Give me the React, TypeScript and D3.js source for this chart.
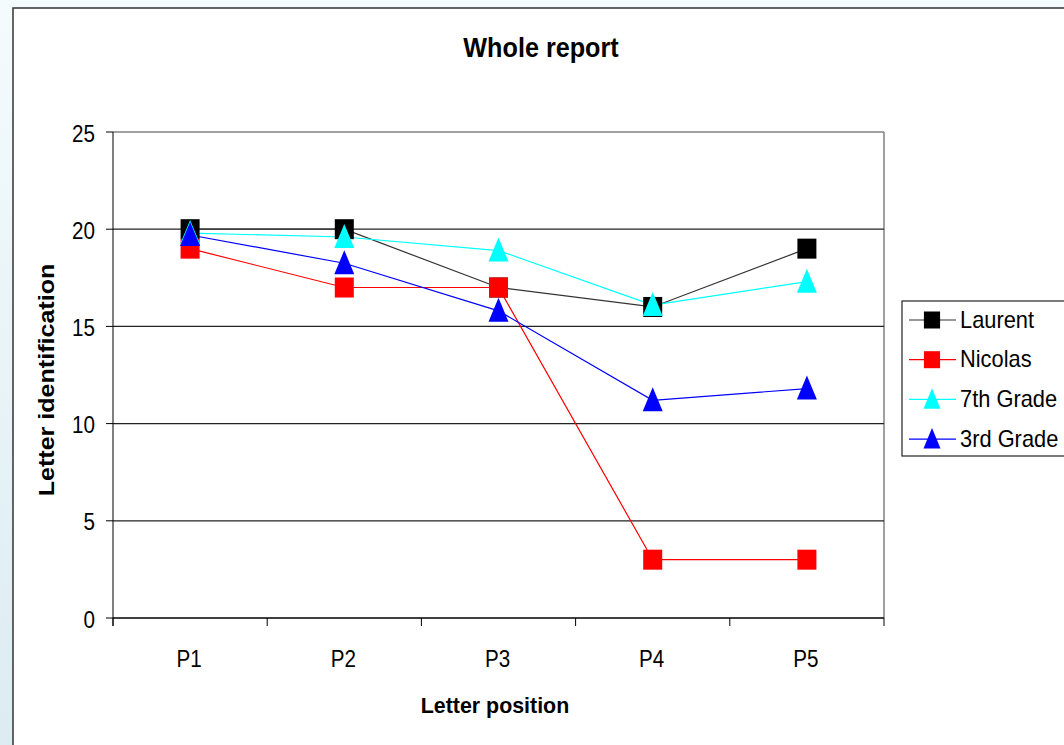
import React from "react";
import * as d3 from "d3";

const categories = ["P1", "P2", "P3", "P4", "P5"];
const laurent = [20, 20, 17, 16, 19];
const nicolas = [19, 17, 17, 3, 3];
const grade7 = [19.8, 19.6, 18.9, 16.1, 17.3];
const grade3 = [19.7, 18.25, 15.8, 11.2, 11.8];
const yTicks = [0, 5, 10, 15, 20, 25];

const seriesList = [
  { name: "Laurent", values: laurent, color: "#000000", line: "#333333", marker: "square" },
  { name: "Nicolas", values: nicolas, color: "#ff0000", line: "#ff0000", marker: "square" },
  { name: "7th Grade", values: grade7, color: "#00ffff", line: "#00ffff", marker: "triangle" },
  { name: "3rd Grade", values: grade3, color: "#0000ff", line: "#0000ff", marker: "triangle" },
];

const W = 1064, H = 745;
const left = 113, right = 884, top = 132, bottom = 618;
const font = "'Liberation Sans', Arial, sans-serif";

function SText(props: {
  x: number; y: number; sx?: number; size: number; bold?: boolean; anchor?: string; rotate?: number; children: any;
}) {
  const { x, y, sx = 0.88, size, bold, anchor = "start", rotate = 0, children } = props;
  return (
    <text
      transform={`translate(${x},${y}) rotate(${rotate}) scale(${sx},1)`}
      textAnchor={anchor}
      fontFamily={font}
      fontWeight={bold ? "bold" : "normal"}
      fontSize={size}
      style={{ whiteSpace: "pre" }}
    >
      {children}
    </text>
  );
}

export default function App() {
  const x = d3.scaleBand().domain(categories).range([left, right]);
  const y = d3.scaleLinear().domain([0, 25]).range([bottom, top]);
  const cx = (c: string) => (x(c) as number) + x.bandwidth() / 2;
  const line = d3.line<number>().x((_, i) => cx(categories[i])).y((v) => y(v));

  const marker = (type: string, px: number, py: number, color: string, key: string, s = 1) => {
    if (type === "square") {
      return <rect key={key} x={px - 9.5 * s} y={py - 10 * s} width={19 * s} height={20 * s} fill={color} />;
    }
    return (
      <path
        key={key}
        d={`M${px},${py - 13 * s}L${px + 10 * s},${py + 11 * s}L${px - 10 * s},${py + 11 * s}Z`}
        fill={color}
      />
    );
  };

  const bounds = categories.map((c) => x(c) as number).concat([right]);

  return (
    <div style={{ position: "absolute", left: 0, top: 0 }}>
      <svg width={W} height={H} style={{ display: "block" }}>
        <defs>
          <linearGradient id="lg" x1="0" y1="0" x2="0" y2="1">
            <stop offset="0" stopColor="#f4fbfd" />
            <stop offset="1" stopColor="#dcecf2" />
          </linearGradient>
        </defs>
        <rect x={0} y={0} width={W} height={H} fill="#f4fbfd" />
        <rect x={0} y={0} width={14} height={H} fill="url(#lg)" />
        <rect x={13} y={8} width={W} height={H} fill="#ffffff" stroke="#333333" strokeWidth={1.5} />

        <SText x={541} y={57} size={28} bold anchor="middle" sx={0.9}>
          Whole report
        </SText>

        {/* plot border (top/right) */}
        <line x1={left} x2={right} y1={top} y2={top} stroke="#808080" strokeWidth={1.5} />
        <line x1={right} x2={right} y1={top} y2={bottom} stroke="#808080" strokeWidth={1.5} />

        {yTicks.filter((t) => t > 0 && t < 25).map((t) => (
          <line key={"g" + t} x1={left} x2={right} y1={y(t)} y2={y(t)} stroke="#222222" strokeWidth={1.3} />
        ))}

        {/* axes */}
        <line x1={left} x2={left} y1={top} y2={bottom + 8} stroke="#000" strokeWidth={1} />
        <line x1={left} x2={right} y1={bottom} y2={bottom} stroke="#000" strokeWidth={1.3} />
        {yTicks.map((t) => (
          <g key={"yt" + t}>
            <line x1={left - 7} x2={left} y1={y(t)} y2={y(t)} stroke="#000" />
            <SText x={left - 18} y={y(t) + 9.5} size={24} anchor="end" sx={0.86}>
              {String(t)}
            </SText>
          </g>
        ))}
        {bounds.map((b, i) => (
          <line key={"xt" + i} x1={b} x2={b} y1={bottom} y2={bottom + 8} stroke="#000" />
        ))}
        {categories.map((c) => (
          <SText key={"xl" + c} x={cx(c) - 1} y={667} size={24} anchor="middle" sx={0.86}>
            {c}
          </SText>
        ))}

        <SText x={495} y={713} size={23} bold anchor="middle" sx={0.93}>
          Letter position
        </SText>
        <SText x={54} y={380} size={22} bold anchor="middle" rotate={-90} sx={1.14}>
          Letter identification
        </SText>

        {seriesList.map((s) => (
          <path key={"l" + s.name} d={line(s.values) || ""} fill="none" stroke={s.line} strokeWidth={1.2} />
        ))}
        {seriesList.map((s) =>
          s.values.map((v, i) => marker(s.marker, cx(categories[i]), y(v), s.color, s.name + i))
        )}

        {/* legend */}
        <rect x={902} y={301} width={180} height={155} fill="#fff" stroke="#333" strokeWidth={1.3} />
        {seriesList.map((s, i) => {
          const ly = 320 + i * 39.7;
          return (
            <g key={"lg" + s.name}>
              <line x1={909} x2={956} y1={ly} y2={ly} stroke={s.line} strokeWidth={1.2} />
              {marker(s.marker, 932, ly, s.color, "lm" + i, 0.85)}
              <SText x={960} y={ly + 7.5} size={23} sx={0.95}>
                {s.name}
              </SText>
            </g>
          );
        })}
      </svg>
    </div>
  );
}
